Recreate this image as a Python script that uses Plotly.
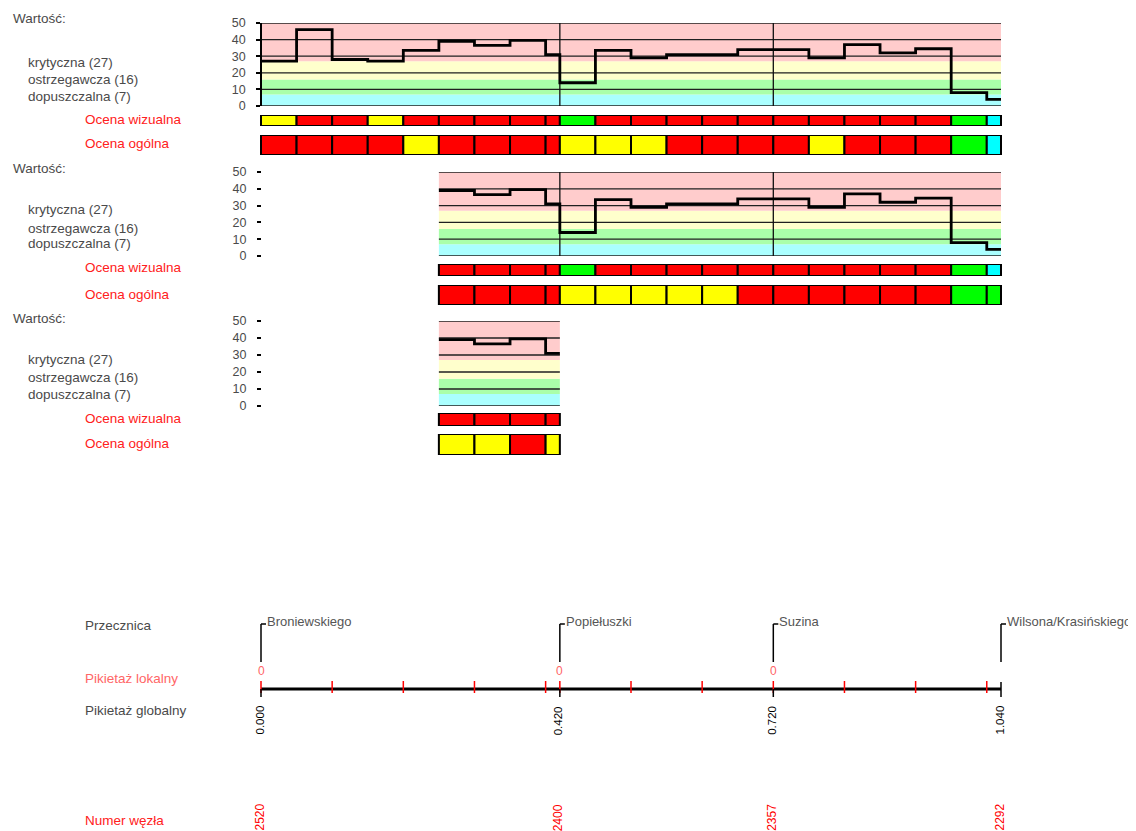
import plotly.graph_objects as go

# ---------------- DATA ----------------
thresholds = {"krytyczna": 27, "ostrzegawcza": 16, "dopuszczalna": 7}

seg_start = [0.00, 0.05, 0.10, 0.15, 0.20, 0.25, 0.30, 0.35, 0.40,
             0.42, 0.47, 0.52, 0.57, 0.62, 0.67,
             0.72, 0.77, 0.82, 0.87, 0.92, 0.97, 1.02]
seg_end_last = 1.04

values = [27, 46, 28, 27, 33.5, 39, 36.5, 39.5, 31,
          14, 33.5, 29, 31, 31, 34,
          34, 29, 37, 32, 34.5, 8, 4]

# colour codes: R red, Y yellow, G green, C cyan
wiz_1 = list("YRRYRRRRR" "GRRRRR" "RRRRRGC")
og_1 = list("RRRRYRRRR" "YYYRRR" "RYRRRGC")
wiz_2 = list("RRRR" "GRRRRR" "RRRRRGC")
og_2 = list("RRRR" "YYYYYR" "RRRRRGG")
wiz_3 = list("RRRR")
og_3 = list("YYRY")

# panels: (first segment index, last segment index exclusive)
panels = [(0, 22, wiz_1, og_1), (5, 22, wiz_2, og_2), (5, 9, wiz_3, og_3)]

inters_names = ["Broniewskiego", "Popiełuszki", "Suzina", "Wilsona/Krasińskiego"]
inters_global = [0.000, 0.420, 0.720, 1.040]
inters_local = ["0", "0", "0", ""]
inters_node = ["2520", "2400", "2357", "2292"]

y_ticks = [0, 10, 20, 30, 40, 50]

# ---------------- STYLE / LAYOUT ----------------
PAGE_W, PAGE_H = 1136, 831
OFF = 8                      # default page body margin
W, H = PAGE_W, PAGE_H
X0_PX, X1_PX = 261, 1001     # page pixels of km 0 and km end
KM_END = inters_global[-1]
PXKM = (X1_PX - X0_PX) / KM_END
x_lo = -(X0_PX - OFF) / PXKM
x_hi = (W - (X0_PX - OFF)) / PXKM

CODE_COL = {"R": "#FF0000", "Y": "#FFFF00", "G": "#00FF00", "C": "#00FFFF"}
BAND_COL = ["#AAFFFF", "#AAFFAA", "#FFFFCC", "#FFCCCC"]
FONT = "Liberation Sans"
GRAY = "#4a4a4a"
RED = "#FF2020"
PINK = "#FF6666"
LAB_SIZE = 13.5


def yp(py):
    return 1 - (py - OFF) / H


def xp(px):
    return (px - OFF) / W


seg_end = seg_start[1:] + [seg_end_last]

# panel vertical geometry (page pixels)
geo = [
    dict(v=(23, 106), wiz=(115, 126), og=(135, 155), lab=(18, 62, 79, 96, 119, 144)),
    dict(v=(172, 256), wiz=(264, 276), og=(285, 305), lab=(168, 210, 228, 243, 268, 294)),
    dict(v=(321, 406), wiz=(413, 426), og=(434, 455), lab=(318, 359, 378, 394, 418, 443)),
]

fig = go.Figure()
layout_axes = {}
shapes = []
annotations = []

for p, ((i0, i1, wiz, og), g) in enumerate(zip(panels, geo)):
    n = 3 * p
    ya_v = "y" if n == 0 else f"y{n + 1}"
    ya_w = f"y{n + 2}"
    ya_o = f"y{n + 3}"
    key_v = "yaxis" if n == 0 else f"yaxis{n + 1}"
    key_w = f"yaxis{n + 2}"
    key_o = f"yaxis{n + 3}"

    xs = seg_start[i0:i1]
    xe = seg_end[i0:i1]
    vals = values[i0:i1]
    p_x0, p_x1 = xs[0], xe[-1]

    layout_axes[key_v] = dict(
        domain=[yp(g["v"][1]), yp(g["v"][0])], range=[0, 50],
        anchor="free", position=xp(X0_PX), showgrid=False, zeroline=False,
        showline=(p == 0), linecolor="black", linewidth=1.5,
        ticks="outside", ticklen=4, tickwidth=1.5, tickcolor="black",
        tickvals=y_ticks, ticklabelstandoff=8, automargin=False,
        tickfont=dict(family=FONT, size=12.5, color=GRAY), fixedrange=True)
    for k in (key_w, key_o):
        dom = g["wiz"] if k == key_w else g["og"]
        layout_axes[k] = dict(domain=[yp(dom[1]), yp(dom[0])], range=[-0.5, 0.5],
                              visible=False, fixedrange=True, automargin=False)

    lims = [0, thresholds["dopuszczalna"], thresholds["ostrzegawcza"],
            thresholds["krytyczna"], 50]
    for b in range(4):
        shapes.append(dict(type="rect", xref="x", yref=ya_v, x0=p_x0, x1=p_x1,
                           y0=lims[b], y1=lims[b + 1], fillcolor=BAND_COL[b],
                           line=dict(width=0), layer="below"))
    for t in y_ticks:
        shapes.append(dict(type="line", xref="x", yref=ya_v, x0=p_x0, x1=p_x1,
                           y0=t, y1=t, line=dict(color="#202020", width=1.3),
                           layer="below"))
    for c in inters_global[1:-1]:
        if p_x0 < c < p_x1:
            shapes.append(dict(type="line", xref="x", yref=ya_v, x0=c, x1=c,
                               y0=0, y1=50, line=dict(color="#101010", width=1.3),
                               layer="below"))

    fig.add_trace(go.Scatter(
        x=xs + [xe[-1]], y=vals + [vals[-1]], yaxis=ya_v, mode="lines",
        line=dict(color="black", width=2.8, shape="hv"), hoverinfo="skip",
        showlegend=False))

    for codes, ya in ((wiz, ya_w), (og, ya_o)):
        fig.add_trace(go.Bar(
            orientation="h", base=xs, x=[e - s for s, e in zip(xs, xe)],
            y=[0] * len(xs), width=1, yaxis=ya,
            marker=dict(color=[CODE_COL[c] for c in codes],
                        line=dict(color="black", width=2)),
            hoverinfo="skip", showlegend=False))

    lab = g["lab"]
    texts = [("Wartość:", 11, GRAY),
             (f"krytyczna ({thresholds['krytyczna']})", 26, GRAY),
             (f"ostrzegawcza ({thresholds['ostrzegawcza']})", 26, GRAY),
             (f"dopuszczalna ({thresholds['dopuszczalna']})", 26, GRAY),
             ("Ocena wizualna", 83, RED),
             ("Ocena ogólna", 83, RED)]
    for (t, x, col), y in zip(texts, lab):
        annotations.append(dict(text=t, x=xp(x), y=yp(y), xref="paper", yref="paper",
                                xanchor="left", yanchor="middle", showarrow=False,
                                font=dict(family=FONT, size=LAB_SIZE, color=col)))

# ---------------- bottom chainage axis ----------------
AX_Y = 689
for t, y, col in (("Przecznica", 625, GRAY), ("Pikietaż lokalny", 678, PINK),
                  ("Pikietaż globalny", 710, GRAY), ("Numer węzła", 820, RED)):
    annotations.append(dict(text=t, x=xp(83), y=yp(y), xref="paper", yref="paper",
                            xanchor="left", yanchor="middle", showarrow=False,
                            font=dict(family=FONT, size=LAB_SIZE, color=col)))

shapes.append(dict(type="line", xref="x", yref="paper", x0=inters_global[0],
                   x1=inters_global[-1], y0=yp(AX_Y), y1=yp(AX_Y),
                   line=dict(color="black", width=3)))
for s, e in zip(inters_global[:-1], inters_global[1:]):
    k = 0
    while s + k * 0.1 < e - 1e-9:
        xk = round(s + k * 0.1, 6)
        shapes.append(dict(type="line", xref="x", yref="paper", x0=xk, x1=xk,
                           y0=yp(AX_Y - 8), y1=yp(AX_Y + 4),
                           line=dict(color="#FF0000", width=1.5)))
        k += 1

for i, (nm, gch, loc, node) in enumerate(zip(inters_names, inters_global,
                                             inters_local, inters_node)):
    last = i == len(inters_global) - 1
    shapes.append(dict(type="line", xref="x", yref="paper", x0=gch, x1=gch,
                       y0=yp(AX_Y + 8), y1=yp(AX_Y - (7 if last else 0)),
                       line=dict(color="black", width=1.5)))
    shapes.append(dict(type="line", xref="x", yref="paper", x0=gch, x1=gch,
                       y0=yp(662), y1=yp(624), line=dict(color="black", width=1.5)))
    shapes.append(dict(type="line", xref="x", yref="paper", xsizemode="pixel",
                       xanchor=gch, x0=0, x1=5, y0=yp(624), y1=yp(624),
                       line=dict(color="black", width=1.5)))
    annotations.append(dict(text=nm, x=gch, xref="x", y=yp(621), yref="paper",
                            xanchor="left", yanchor="middle", xshift=4, showarrow=False,
                            font=dict(family=FONT, size=13, color="#555555")))
    if loc:
        annotations.append(dict(text=loc, x=gch, xref="x", y=yp(671), yref="paper",
                                xanchor="center", yanchor="middle", showarrow=False,
                                font=dict(family=FONT, size=12, color=PINK)))
    annotations.append(dict(text=f"{gch:.3f}", x=gch, xref="x", y=yp(704), yref="paper",
                            xanchor="center", yanchor="top", textangle=-90, xshift=-2,
                            showarrow=False,
                            font=dict(family=FONT, size=11.5, color="black")))
    annotations.append(dict(text=node, x=gch, xref="x", y=yp(802), yref="paper",
                            xanchor="center", yanchor="top", textangle=-90, xshift=-2,
                            showarrow=False,
                            font=dict(family=FONT, size=12, color="#FF0000")))

fig.update_layout(
    width=W, height=H, margin=dict(l=0, r=0, t=0, b=0, pad=0, autoexpand=False),
    paper_bgcolor="white", plot_bgcolor="white", showlegend=False,
    xaxis=dict(range=[x_lo, x_hi], domain=[0, 1], visible=False, fixedrange=True,
               automargin=False),
    shapes=shapes, annotations=annotations, barmode="overlay",
    **layout_axes)

fig.write_html("out.html")
